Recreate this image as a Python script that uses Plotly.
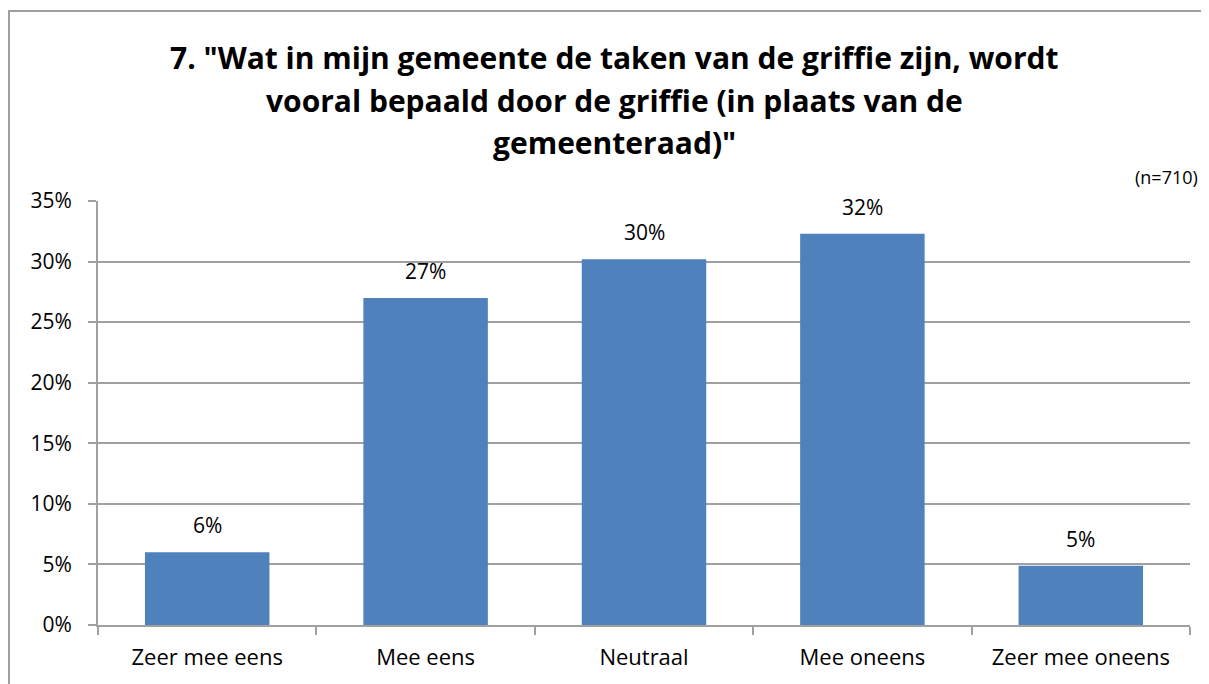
import plotly.graph_objects as go

categories = ["Zeer mee eens", "Mee eens", "Neutraal", "Mee oneens", "Zeer mee oneens"]
percentages = [6.0, 27.0, 30.2, 32.3, 4.9]
y_ticks = [0, 5, 10, 15, 20, 25, 30, 35]
title_lines = [
    '7. "Wat in mijn gemeente de taken van de griffie zijn, wordt',
    'vooral bepaald door de griffie (in plaats van de',
    'gemeenteraad)"',
]
sample_note = "(n=710)"

FONT = "Open Sans"
BLUE = "#4f81bd"
GRID = "#a0a0a0"

fig = go.Figure()
fig.add_trace(go.Bar(
    x=categories,
    y=percentages,
    marker=dict(color=BLUE, line=dict(width=0)),
    showlegend=False,
    hoverinfo="skip",
))

# data labels above the bars
for cat, val in zip(categories, percentages):
    fig.add_annotation(x=cat, y=val, text=f"{round(val)}%", showarrow=False,
                       yanchor="bottom", yshift=11,
                       font=dict(family=FONT, size=21, color="#000000"))

# title, one annotation per line so the spacing can follow the original
for line, ypos in zip(title_lines, [1.3396, 1.2382, 1.1368]):
    fig.add_annotation(x=0.4734, y=ypos, xref="paper", yref="paper",
                       text=f"<b>{line}</b>", showarrow=False,
                       xanchor="center", yanchor="middle",
                       font=dict(family=FONT, size=30, color="#000000"))

fig.add_annotation(x=1.009, y=1.0, xref="paper", yref="paper",
                   text=sample_note, showarrow=False,
                   xanchor="right", yanchor="bottom", yshift=10,
                   font=dict(family=FONT, size=18, color="#000000"))

# outer chart border
fig.add_shape(type="rect", xref="paper", yref="paper",
              x0=-0.0815, x1=1.0128, y0=-0.3, y1=1.448,
              line=dict(color=GRID, width=2), fillcolor="rgba(0,0,0,0)")

# page body has an 8px margin, so the figure is sized to fit inside it
fig.update_layout(
    width=1201, height=676,
    margin=dict(l=90, r=19, t=193, b=59),
    paper_bgcolor="white", plot_bgcolor="white",
    bargap=0.43,
    font=dict(family=FONT, size=21, color="#000000"),
    xaxis=dict(showline=True, linecolor=GRID, linewidth=2,
               ticks="outside", tickson="boundaries", ticklen=8,
               tickcolor=GRID, tickwidth=2, showgrid=False,
               ticklabelstandoff=12,
               tickfont=dict(family=FONT, size=22)),
    yaxis=dict(range=[0, 35], tickvals=y_ticks,
               ticktext=[f"{t}%" for t in y_ticks],
               showline=True, linecolor=GRID, linewidth=2,
               ticks="outside", ticklen=8, tickcolor=GRID, tickwidth=2,
               showgrid=True, gridcolor=GRID, gridwidth=2,
               zeroline=False, ticklabelstandoff=12,
               tickfont=dict(family=FONT, size=21)),
)

fig.write_html("out.html")
